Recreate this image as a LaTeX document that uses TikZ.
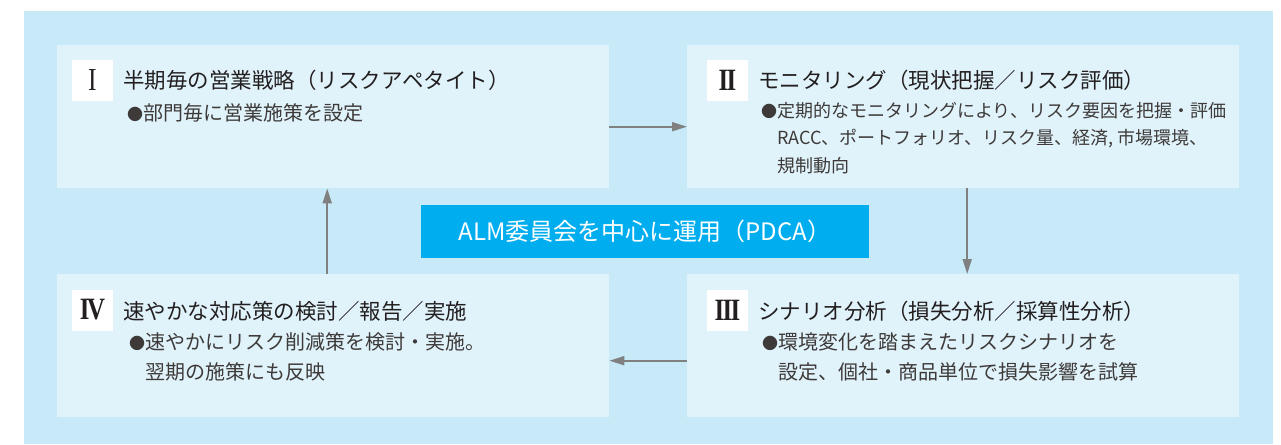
\documentclass[tikz,border=0pt]{standalone}
\usepackage{fontspec}
\setmainfont{Liberation Serif}
\newfontfamily\jpfont{Noto Sans CJK JP}
\newfontfamily\numfont{Liberation Serif}
\usetikzlibrary{arrows.meta}
\definecolor{mback}{HTML}{C7E9F8}
\definecolor{mbox}{HTML}{E0F3FB}
\definecolor{mcyan}{HTML}{00AEEF}
\definecolor{mgray}{HTML}{808080}
\definecolor{mtitle}{HTML}{231F20}
\definecolor{mbody}{HTML}{3E3A39}
\newcommand{\dotmark}{{\fontsize{16}{16}\selectfont ●}}
\newcommand{\numtext}[1]{\scalebox{0.8}[1]{#1}}
\tikzset{stage/.style = {fill=mbox, inner sep=0, anchor=north west,
                         minimum width=552pt, minimum height=143pt}}
\tikzset{numbox/.style = {fill=white, inner sep=0, minimum size=41pt,
                          text=mtitle, font=\numfont\bfseries\fontsize{31}{31}\selectfont}}
\tikzset{title/.style = {anchor=west, inner sep=0, text=mtitle,
                         font=\jpfont\fontsize{21.5}{26}\selectfont}}
\tikzset{body/.style = {anchor=west, inner sep=0, align=left, text=mbody,
                        font=\jpfont\fontsize{20}{30}\selectfont}}
\tikzset{flow/.style = {draw=mgray, line width=1.8pt,
                        -{Triangle[length=15pt, width=9pt]}}}

\begin{document}
\begin{tikzpicture}[x=1pt, y=-1pt]
    \useasboundingbox (0, 0) rectangle (1281, 444);
    \fill [mback] (24, 11) rectangle (1273, 444);

    \node [stage] (s1) at (57, 45) {};
    \node [stage] (s2) at (687, 45) {};
    \node [stage] (s3) at (687, 274) {};
    \node [stage] (s4) at (57, 274) {};

    \node [numbox, font=\numfont\fontsize{32}{32}\selectfont] (n1) at (92.5, 80.5) {\numtext{I}};
    \node [title] (t1) at (123, 80) {半期毎の営業戦略（リスクアペタイト）};
    \node [body] (b1) at (127, 113) {\dotmark 部門毎に営業施策を設定};

    \node [numbox] (n2) at (727.5, 80.5) {\numtext{I\kern-2pt I}};
    \node [title] (t2) at (758, 80) {モニタリング（現状把握／リスク評価）};
    \node [body, font=\jpfont\fontsize{18}{27.5}\selectfont] (b2) at (761, 138)
      {\dotmark 定期的なモニタリングにより、リスク要因を把握・評価\\
       \phantom{\dotmark}RACC、ポートフォリオ、リスク量、経済, 市場環境、\\
       \phantom{\dotmark}規制動向};

    \node [numbox] (n3) at (727.5, 310) {\numtext{I\kern-2pt I\kern-2pt I}};
    \node [title] (t3) at (758, 311) {シナリオ分析（損失分析／採算性分析）};
    \node [body] (b3) at (762, 357)
      {\dotmark 環境変化を踏まえたリスクシナリオを\\
       \phantom{\dotmark}設定、個社・商品単位で損失影響を試算};

    \node [numbox] (n4) at (92.5, 310) {\numtext{I\kern-3pt V}};
    \node [title] (t4) at (123, 311) {速やかな対応策の検討／報告／実施};
    \node [body] (b4) at (129, 357)
      {\dotmark 速やかにリスク削減策を検討・実施。\\
       \phantom{\dotmark}翌期の施策にも反映};

    \node [fill=mcyan, text=white, inner sep=0, minimum width=448pt, minimum height=53pt,
           font=\jpfont\fontsize{24}{24}\selectfont] (alm) at (645, 231.5)
      {ALM委員会を中心に運用（PDCA）};

    \draw [flow] ([yshift=-10pt]s1.east) -- ([yshift=-10pt]s2.west);
    \draw [flow] ([xshift=4pt]s2.south) -- ([xshift=4pt]s3.north);
    \draw [flow] ([yshift=-15pt]s3.west) -- ([yshift=-15pt]s4.east);
    \draw [flow] ([xshift=-6pt]s4.north) -- ([xshift=-6pt]s1.south);
  \end{tikzpicture}
\end{document}
